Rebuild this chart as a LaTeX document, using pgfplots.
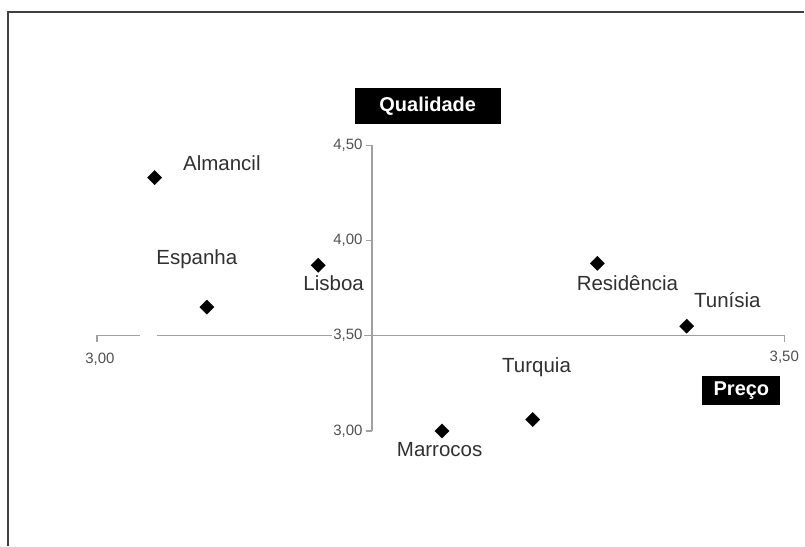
\documentclass[border=0pt]{standalone}
\usepackage{pgfplots}
\pgfplotsset{compat=1.18}
\usepackage{fontspec}
\setmainfont{Liberation Sans}

\definecolor{axisgray}{HTML}{A0A0A0}
\definecolor{ticktext}{HTML}{505050}
\definecolor{labeltext}{HTML}{303030}
\definecolor{framegray}{HTML}{404040}

\begin{document}
\begin{tikzpicture}[
  ticklab/.style={text=ticktext, font=\fontsize{15bp}{17bp}\selectfont, inner sep=1bp},
  axline/.style={axisgray, line width=1.3bp},
  place/.style={text=labeltext, font=\fontsize{20.5bp}{24bp}\selectfont},
  title/.style={fill=black, text=white, font=\bfseries\fontsize{20bp}{22bp}\selectfont, inner sep=0pt},
]
\begin{axis}[
  scale only axis,
  width=805bp, height=546bp,
  xmin=2.92951, xmax=3.51454,
  ymin=2.39883, ymax=5.26193,
  axis lines=none, ticks=none,
  clip=false,
]
% keep the whole plotting area as the picture's extent
\path (rel axis cs:0,0) rectangle (rel axis cs:1,1);

% frame of the chart area
\draw[framegray, line width=1.4bp] (axis cs:2.93532,2.39883) -- (axis cs:2.93532,5.1990) -- (axis cs:3.51454,5.1990);

% Preço axis (horizontal), crossing at Qualidade = 3.50
\draw[axline] (axis cs:3.00,3.4685) -- (axis cs:3.00,3.5) -- (axis cs:3.0312,3.5);
\draw[axline] (axis cs:3.0436,3.5) -- (axis cs:3.50,3.5) -- (axis cs:3.50,3.4685);

% Qualidade axis (vertical), crossing at Preço = 3.20
\draw[axline] (axis cs:3.2,3.0) -- (axis cs:3.2,4.5);
\draw[axline] (axis cs:3.1956,3.0) -- (axis cs:3.2,3.0);
\draw[axline] (axis cs:3.1956,3.5) -- (axis cs:3.2,3.5);
\draw[axline] (axis cs:3.1956,4.0) -- (axis cs:3.2,4.0);
\draw[axline] (axis cs:3.1956,4.5) -- (axis cs:3.2,4.5);

% tick labels
\node[ticklab, anchor=east] at (axis cs:3.1941,3.0) {3,00};
\node[ticklab, anchor=east, fill=white] at (axis cs:3.1941,3.5) {3,50};
\node[ticklab, anchor=east] at (axis cs:3.1941,4.0) {4,00};
\node[ticklab, anchor=east] at (axis cs:3.1941,4.5) {4,50};
\node[ticklab] at (axis cs:3.0022,3.3742) {3,00};
\node[ticklab] at (axis cs:3.5000,3.3847) {3,50};

% axis titles
\node[title, minimum width=146bp, minimum height=36bp] at (axis cs:3.2406,4.7061) {Qualidade};
\node[title, minimum width=78bp, minimum height=29bp] at (axis cs:3.4688,3.2116) {Preço};

% destinations
\addplot[only marks, mark=square*, mark size=5bp, mark options={rotate=45, fill=black, draw=black}]
  table[row sep=\\] {
  x y \\
  3.042 4.33 \\
  3.080 3.65 \\
  3.161 3.87 \\
  3.251 3.00 \\
  3.317 3.06 \\
  3.364 3.88 \\
  3.429 3.55 \\
};

% destination names
\node[place] at (axis cs:3.0909,4.4072) {Almancil};
\node[place] at (axis cs:3.0727,3.9038) {Espanha};
\node[place] at (axis cs:3.1722,3.7779) {Lisboa};
\node[place] at (axis cs:3.2493,2.9022) {Marrocos};
\node[place] at (axis cs:3.3198,3.3322) {Turquia};
\node[place] at (axis cs:3.3859,3.7779) {Residência};
\node[place] at (axis cs:3.4586,3.6888) {Tunísia};
\end{axis}
\end{tikzpicture}
\end{document}
